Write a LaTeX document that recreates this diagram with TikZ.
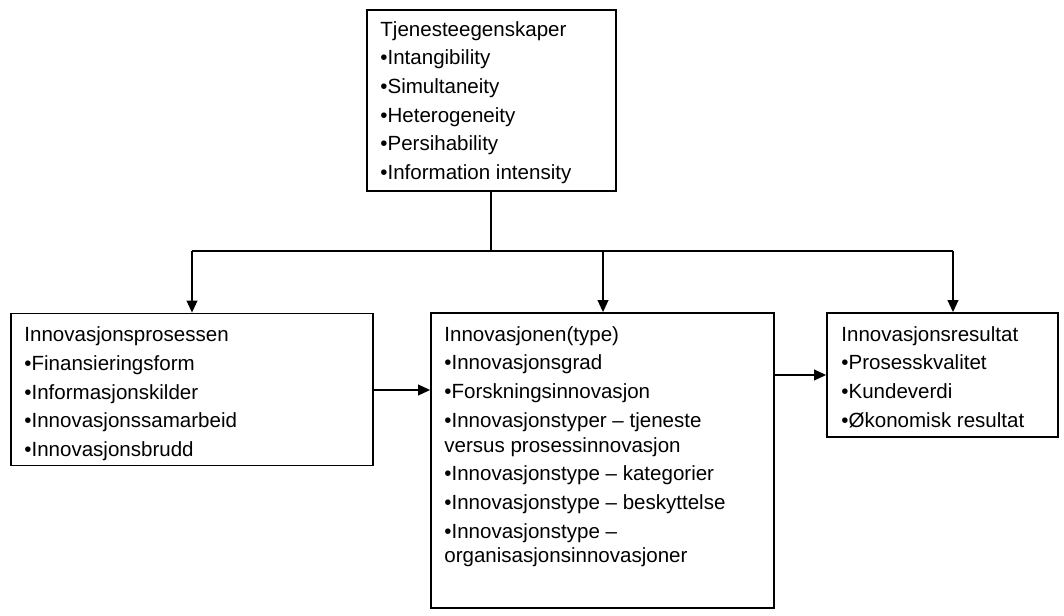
\documentclass[tikz,border=0pt]{standalone}
\usepackage{fontspec}
\setmainfont{Liberation Sans}
\usetikzlibrary{arrows.meta}
\begin{document}
\begin{tikzpicture}[x=0.75pt,y=-0.75pt,
  box/.style={draw,line width=1.3pt,inner sep=0pt},
  txt/.style={anchor=north west,inner sep=0pt,align=left,font=\fontsize{15.4pt}{18.6pt}\selectfont},
  conn/.style={line width=1.3pt},
  arr/.style={conn,-{Triangle[length=9pt,width=8pt]}}]
\useasboundingbox (0,0) rectangle (1064,616);
% boxes
\node[box,minimum width=186.75pt,minimum height=135.75pt] (top) at (491.5,100.5) {};
\node[box,minimum width=271.5pt,minimum height=114pt] (left) at (192,389.5) {};
\node[box,minimum width=257.25pt,minimum height=221.25pt] (mid) at (602.5,460.5) {};
\node[box,minimum width=173.25pt,minimum height=93pt] (right) at (942.5,375) {};
% texts
\node[txt] (topt) at ([shift={(14,12)}]top.north west) {Tjenesteegenskaper\\[2.9pt]•Intangibility\\[2.9pt]•Simultaneity\\[2.9pt]•Heterogeneity\\[2.9pt]•Persihability\\[2.9pt]•Information intensity};
\node[txt] (leftt) at ([shift={(14,14)}]left.north west) {Innovasjonsprosessen\\[2.9pt]•Finansieringsform\\[2.9pt]•Informasjonskilder\\[2.9pt]•Innovasjonssamarbeid\\[2.9pt]•Innovasjonsbrudd};
\node[txt] (midt) at ([shift={(14,14)}]mid.north west) {Innovasjonen(type)\\[2.9pt]•Innovasjonsgrad\\[2.9pt]•Forskningsinnovasjon\\[2.9pt]•Innovasjonstyper – tjeneste\\versus prosessinnovasjon\\[2.9pt]•Innovasjonstype – kategorier\\[2.9pt]•Innovasjonstype – beskyttelse\\[2.9pt]•Innovasjonstype –\\organisasjonsinnovasjoner};
\node[txt] (rightt) at ([shift={(15,14)}]right.north west) {Innovasjonsresultat\\[2.9pt]•Prosesskvalitet\\[2.9pt]•Kundeverdi\\[2.9pt]•Økonomisk resultat};
% connectors
\coordinate (j) at (491,251);
\coordinate (hl) at (192,251);
\coordinate (hm) at (603,251);
\coordinate (hr) at (953,251);
\coordinate (la) at (0,390);
\draw[conn] (j |- top.south) -- (j);
\draw[conn] (hl) -- (hr);
\draw[arr] (hl) -- (left.north);
\draw[arr] (hm) -- (hm |- mid.north);
\draw[arr] (hr) -- (hr |- right.north);
\draw[arr] (left.east |- la) -- (mid.west |- la);
\draw[arr] (right.west -| mid.east) -- (right.west);
\end{tikzpicture}
\end{document}
